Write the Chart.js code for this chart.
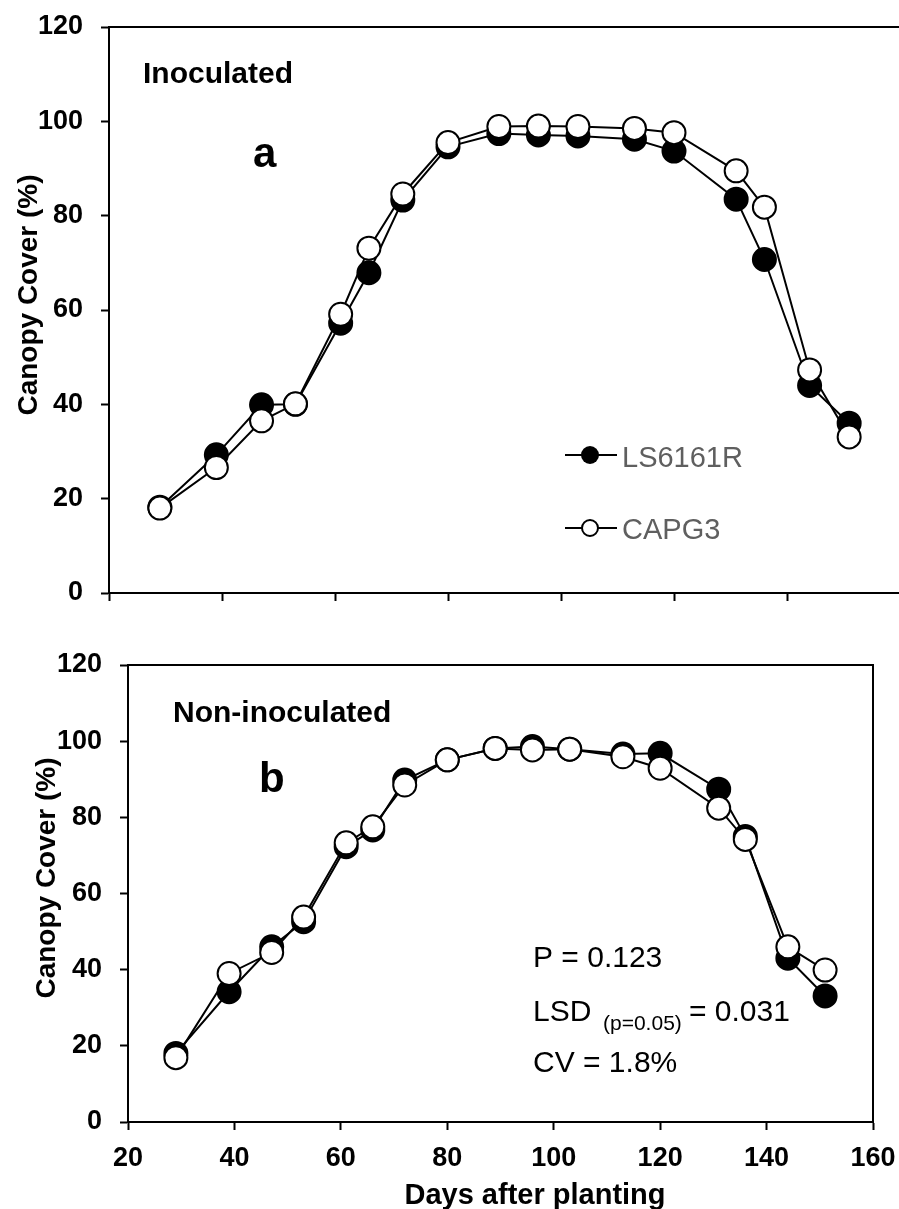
<!DOCTYPE html>
<html>
<head>
<meta charset="utf-8">
<script src="https://cdn.jsdelivr.net/npm/chart.js@4.4.1/dist/chart.umd.min.js"></script>
<style>
  html, body { margin: 0; padding: 0; background: #fff; overflow: hidden; width: 899px; height: 1209px; }
  #wrap { position: relative; width: 899px; height: 1209px; overflow: hidden; }
  canvas { position: absolute; left: 0; }
</style>
</head>
<body>
<div id="wrap">
  <canvas id="top" width="902" height="615" style="top:0px;width:902px;height:615px"></canvas>
  <canvas id="bot" width="899" height="594" style="top:615px;width:899px;height:594px"></canvas>
</div>
<script>
// ---- Data ----
const days = [29, 39, 47, 53, 61, 66, 72, 80, 89, 96, 103, 113, 120, 131, 136, 144, 151];

const inocLS6161R = [18.2, 29.3, 39.9, 40.0, 57.2, 67.9, 83.3, 94.6, 97.4, 97.1, 96.9, 96.2, 93.7, 83.5, 70.7, 44.0, 36.0];
const inocCAPG3   = [18.0, 26.6, 36.5, 40.1, 59.1, 73.1, 84.6, 95.5, 98.9, 99.0, 98.9, 98.5, 97.6, 89.5, 81.8, 47.3, 33.1];

const nonLS6161R  = [18.0, 34.2, 46.0, 52.6, 72.3, 76.7, 89.8, 95.1, 98.1, 98.6, 97.9, 96.6, 96.8, 87.4, 75.0, 43.0, 33.1];
const nonCAPG3    = [16.9, 39.0, 44.5, 53.8, 73.3, 77.5, 88.5, 95.1, 98.1, 97.7, 97.9, 95.9, 92.9, 82.4, 74.2, 46.0, 39.9];

const seriesNames = ['LS6161R', 'CAPG3'];
const xTicks = [20, 40, 60, 80, 100, 120, 140, 160];
const yTicks = [0, 20, 40, 60, 80, 100, 120];

const panelTitles = ['Inoculated', 'Non-inoculated'];
const panelLetters = ['a', 'b'];
const yTitle = 'Canopy Cover (%)';
const xTitle = 'Days after planting';
const statsP = 'P = 0.123';
const statsLSD = ['LSD', '(p=0.05)', '= 0.031'];
const statsCV = 'CV = 1.8%';

// ---- Helpers ----
const FONT = '"Liberation Sans", Arial, Helvetica, sans-serif';
const toXY = (xs, ys) => xs.map((x, i) => ({ x: x, y: ys[i] }));

function makeDatasets(ls, cap) {
  return [
    {
      label: seriesNames[0],
      data: toXY(days, ls),
      borderColor: '#000', borderWidth: 2,
      pointRadius: 11.5, pointHoverRadius: 11.5,
      pointBackgroundColor: '#000', pointBorderColor: '#000', pointBorderWidth: 2,
      showLine: true, tension: 0, order: 1, clip: false
    },
    {
      label: seriesNames[1],
      data: toXY(days, cap),
      borderColor: '#000', borderWidth: 2,
      pointRadius: 11.5, pointHoverRadius: 11.5,
      pointBackgroundColor: '#fff', pointBorderColor: '#000', pointBorderWidth: 2,
      showLine: true, tension: 0, order: 0, clip: false
    }
  ];
}

function zeroPad(scale) {
  scale.paddingLeft = 0; scale.paddingRight = 0;
  scale.paddingTop = 0; scale.paddingBottom = 0;
}

function frameAndTextPlugin(drawExtra) {
  return {
    id: 'frameText',
    afterDraw(chart) {
      const ctx = chart.ctx;
      const a = chart.chartArea;
      ctx.save();
      ctx.strokeStyle = '#000';
      ctx.lineWidth = 2;
      ctx.strokeRect(a.left, a.top, a.right - a.left, a.bottom - a.top);
      ctx.restore();
      drawExtra(chart, ctx);
    }
  };
}

function makeOptions(cfg) {
  return {
    responsive: false,
    maintainAspectRatio: false,
    devicePixelRatio: 1,
    animation: false,
    events: [],
    layout: { autoPadding: false, padding: { left: 0, top: cfg.top, right: cfg.padRight, bottom: 0 } },
    plugins: { legend: { display: false }, tooltip: { enabled: false } },
    scales: {
      x: {
        type: 'linear', min: 20, max: 160,
        afterBuildTicks(scale) { scale.ticks = xTicks.map(v => ({ value: v })); },
        afterFit(scale) { scale.height = cfg.xHeight; zeroPad(scale); },
        ticks: {
          display: cfg.showXLabels,
          color: '#000',
          font: { family: FONT, size: 27, weight: 'bold' },
          padding: 12,
          maxRotation: 0
        },
        grid: { drawOnChartArea: false, drawTicks: true, tickLength: 8, tickWidth: 2, tickColor: '#000' },
        border: { display: true, color: '#000', width: 2 }
      },
      y: {
        type: 'linear', min: 0, max: 120,
        afterBuildTicks(scale) { scale.ticks = yTicks.map(v => ({ value: v })); },
        afterFit(scale) { scale.width = cfg.left; zeroPad(scale); },
        ticks: {
          color: '#000',
          font: { family: FONT, size: 27, weight: 'bold' },
          padding: 18
        },
        grid: { drawOnChartArea: false, drawTicks: true, tickLength: 8, tickWidth: 2, tickColor: '#000' },
        border: { display: true, color: '#000', width: 2 }
      }
    }
  };
}

function drawYTitle(ctx, x, y) {
  ctx.save();
  ctx.translate(x, y);
  ctx.rotate(-Math.PI / 2);
  ctx.fillStyle = '#000';
  ctx.font = 'bold 28px ' + FONT;
  ctx.textAlign = 'center';
  ctx.textBaseline = 'alphabetic';
  ctx.fillText(yTitle, 0, 0);
  ctx.restore();
}

// ---- Top chart (Inoculated) ----
new Chart(document.getElementById('top'), {
  type: 'scatter',
  data: { datasets: makeDatasets(inocLS6161R, inocCAPG3) },
  options: makeOptions({ top: 27, padRight: 2, left: 109, xHeight: 22, showXLabels: false }),
  plugins: [frameAndTextPlugin((chart, ctx) => {
    ctx.save();
    ctx.fillStyle = '#000';
    ctx.font = 'bold 30px ' + FONT;
    ctx.textBaseline = 'alphabetic';
    ctx.textAlign = 'left';
    ctx.fillText(panelTitles[0], 143, 83);
    ctx.font = 'bold 42px ' + FONT;
    ctx.fillText(panelLetters[0], 253, 167);
    // legend
    ctx.strokeStyle = '#000';
    ctx.lineWidth = 2;
    ctx.beginPath(); ctx.moveTo(565, 455); ctx.lineTo(617, 455); ctx.stroke();
    ctx.beginPath(); ctx.arc(590, 455, 9, 0, Math.PI * 2); ctx.fillStyle = '#000'; ctx.fill();
    ctx.beginPath(); ctx.moveTo(565, 528); ctx.lineTo(617, 528); ctx.stroke();
    ctx.beginPath(); ctx.arc(590, 528, 8, 0, Math.PI * 2); ctx.fillStyle = '#fff'; ctx.fill(); ctx.stroke();
    ctx.fillStyle = '#5f5f5f';
    ctx.font = '29px ' + FONT;
    ctx.fillText(seriesNames[0], 622, 467);
    ctx.fillText(seriesNames[1], 622, 539);
    ctx.restore();
    drawYTitle(ctx, 37, 295);
  })]
});

// ---- Bottom chart (Non-inoculated) ----
new Chart(document.getElementById('bot'), {
  type: 'scatter',
  data: { datasets: makeDatasets(nonLS6161R, nonCAPG3) },
  options: makeOptions({ top: 50, padRight: 26, left: 128, xHeight: 87, showXLabels: true }),
  plugins: [frameAndTextPlugin((chart, ctx) => {
    ctx.save();
    ctx.fillStyle = '#000';
    ctx.textBaseline = 'alphabetic';
    ctx.textAlign = 'left';
    ctx.font = 'bold 30px ' + FONT;
    ctx.fillText(panelTitles[1], 173, 722 - 615);
    ctx.font = 'bold 42px ' + FONT;
    ctx.fillText(panelLetters[1], 259, 792 - 615);
    // stats
    ctx.font = '30px ' + FONT;
    ctx.fillText(statsP, 533, 967 - 615);
    ctx.fillText(statsLSD[0], 533, 1021 - 615);
    ctx.font = '21px ' + FONT;
    ctx.fillText(statsLSD[1], 603, 1030 - 615);
    ctx.font = '30px ' + FONT;
    ctx.fillText(statsLSD[2], 689, 1021 - 615);
    ctx.fillText(statsCV, 533, 1072 - 615);
    // x title
    ctx.font = 'bold 29px ' + FONT;
    ctx.textAlign = 'center';
    ctx.fillText(xTitle, 535, 1204 - 615);
    ctx.restore();
    drawYTitle(ctx, 55, 878 - 615);
  })]
});
</script>
</body>
</html>
